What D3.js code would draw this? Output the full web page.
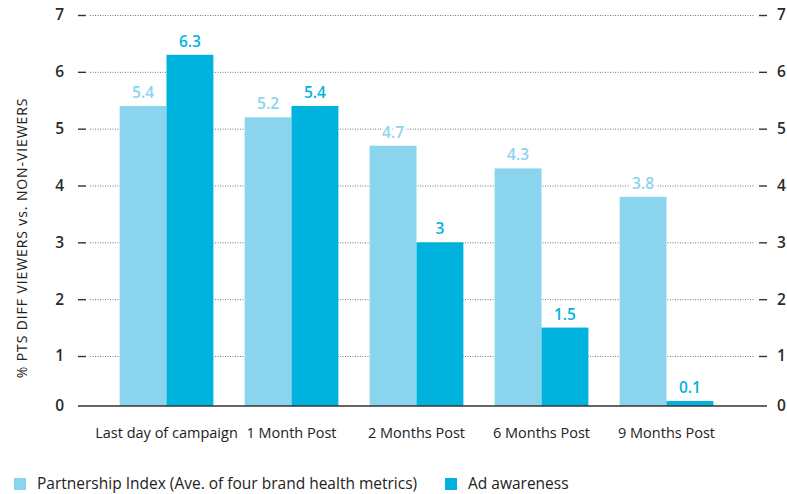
<!DOCTYPE html>
<html>
<head>
<meta charset="utf-8">
<script src="https://cdn.jsdelivr.net/npm/d3@7"></script>
<style>
  html, body { margin: 0; padding: 0; background: #fff; }
  svg { display: block; font-family: "Open Sans", sans-serif; }
</style>
</head>
<body>
<svg id="chart" width="787" height="494"></svg>
<script>
// Time points after the campaign
const categories = ["Last day of campaign", "1 Month Post", "2 Months Post", "6 Months Post", "9 Months Post"];
// Series names and values (% points difference, viewers vs. non-viewers)
const seriesNames = ["Partnership Index (Ave. of four brand health metrics)", "Ad awareness"];
const partnershipIndex = [5.4, 5.2, 4.7, 4.3, 3.8];
const adAwareness = [6.3, 5.4, 3, 1.5, 0.1];
const yTicks = [0, 1, 2, 3, 4, 5, 6, 7];
const yTitle = "% PTS DIFF VIEWERS vs. NON-VIEWERS";

const colors = ["#8ad4ee", "#00b3df"];
const seriesValues = [partnershipIndex, adAwareness];
const rows = categories.map((c, i) => ({ cat: c, values: seriesValues.map(s => s[i]) }));

const svg = d3.select("#chart");

const gridLeft = 90, gridRight = 755;
const x = d3.scaleBand().domain(categories).range([104, 729]).paddingInner(0.25).paddingOuter(0.125);
const xs = d3.scaleBand().domain(d3.range(seriesNames.length)).range([0, x.bandwidth()]);
// the zero step of the value axis is slightly compressed
const y = d3.scaleLinear().domain([0, 1, 7]).range([406, 356, 15]);

// dotted gridlines
svg.append("g").selectAll("line")
  .data(yTicks.filter(t => t > 0))
  .join("line")
  .attr("x1", gridLeft).attr("x2", gridRight)
  .attr("y1", d => y(d) + 0.5).attr("y2", d => y(d) + 0.5)
  .attr("stroke", "#777").attr("stroke-width", 1)
  .attr("stroke-dasharray", "1,1.5");

// left and right axis ticks + labels
const leftAxis = d3.axisLeft(y).tickValues(yTicks).tickSize(8).tickPadding(14).tickFormat(d3.format("d"));
const gl = svg.append("g").attr("transform", "translate(86,0)").call(leftAxis);
const rightAxis = d3.axisRight(y).tickValues(yTicks).tickSize(8).tickPadding(10).tickFormat(d3.format("d"));
const gr = svg.append("g").attr("transform", "translate(759,0)").call(rightAxis);
[gl, gr].forEach(g => {
  g.select(".domain").remove();
  g.selectAll(".tick line").attr("stroke", "#333").attr("stroke-width", 1.4)
    .filter(d => d === 0).remove();
  g.selectAll(".tick text").attr("fill", "#2a2a2a").attr("font-size", 15.5)
    .attr("font-family", "Open Sans, sans-serif").attr("font-weight", 600);
});

// bars
const groups = svg.append("g").selectAll("g")
  .data(rows).join("g")
  .attr("transform", d => `translate(${x(d.cat)},0)`);

groups.selectAll("rect")
  .data(d => d.values.map((v, i) => ({ v, i })))
  .join("rect")
  .attr("x", d => xs(d.i))
  .attr("width", xs.bandwidth())
  .attr("y", d => y(d.v))
  .attr("height", d => y(0) - y(d.v))
  .attr("fill", d => colors[d.i]);

// value labels
groups.selectAll("text")
  .data(d => d.values.map((v, i) => ({ v, i })))
  .join("text")
  .attr("x", d => xs(d.i) + xs.bandwidth() / 2)
  .attr("y", d => y(d.v) - 8)
  .attr("text-anchor", "middle")
  .attr("font-size", 15.5)
  .attr("font-weight", 600)
  .attr("fill", d => colors[d.i])
  .attr("stroke", "#fff").attr("stroke-width", 5).attr("paint-order", "stroke")
  .text(d => d.v);

// baseline
svg.append("line")
  .attr("x1", 78).attr("x2", 767)
  .attr("y1", y(0)).attr("y2", y(0))
  .attr("stroke", "#333").attr("stroke-width", 1.6);

// category labels
svg.append("g").selectAll("text")
  .data(categories).join("text")
  .attr("x", d => x(d) + x.bandwidth() / 2)
  .attr("y", 438)
  .attr("text-anchor", "middle")
  .attr("font-size", 14.5)
  .attr("font-weight", 500)
  .attr("fill", "#222")
  .text(d => d);

// y-axis title
svg.append("text")
  .attr("transform", "translate(27,238) rotate(-90)")
  .attr("text-anchor", "middle")
  .attr("font-size", 14)
  .attr("font-weight", 500)
  .attr("letter-spacing", 0.9)
  .attr("fill", "#222")
  .text(yTitle);

// legend
const legendX = [14, 445];
const legend = svg.append("g").selectAll("g")
  .data(seriesNames).join("g")
  .attr("transform", (d, i) => `translate(${legendX[i]},478)`);
legend.append("rect").attr("width", 12).attr("height", 12).attr("fill", (d, i) => colors[i]);
legend.append("text")
  .attr("x", 23).attr("y", 11)
  .attr("font-size", 15.5)
  .attr("font-weight", 500)
  .attr("fill", "#222")
  .text(d => d);
</script>
</body>
</html>
